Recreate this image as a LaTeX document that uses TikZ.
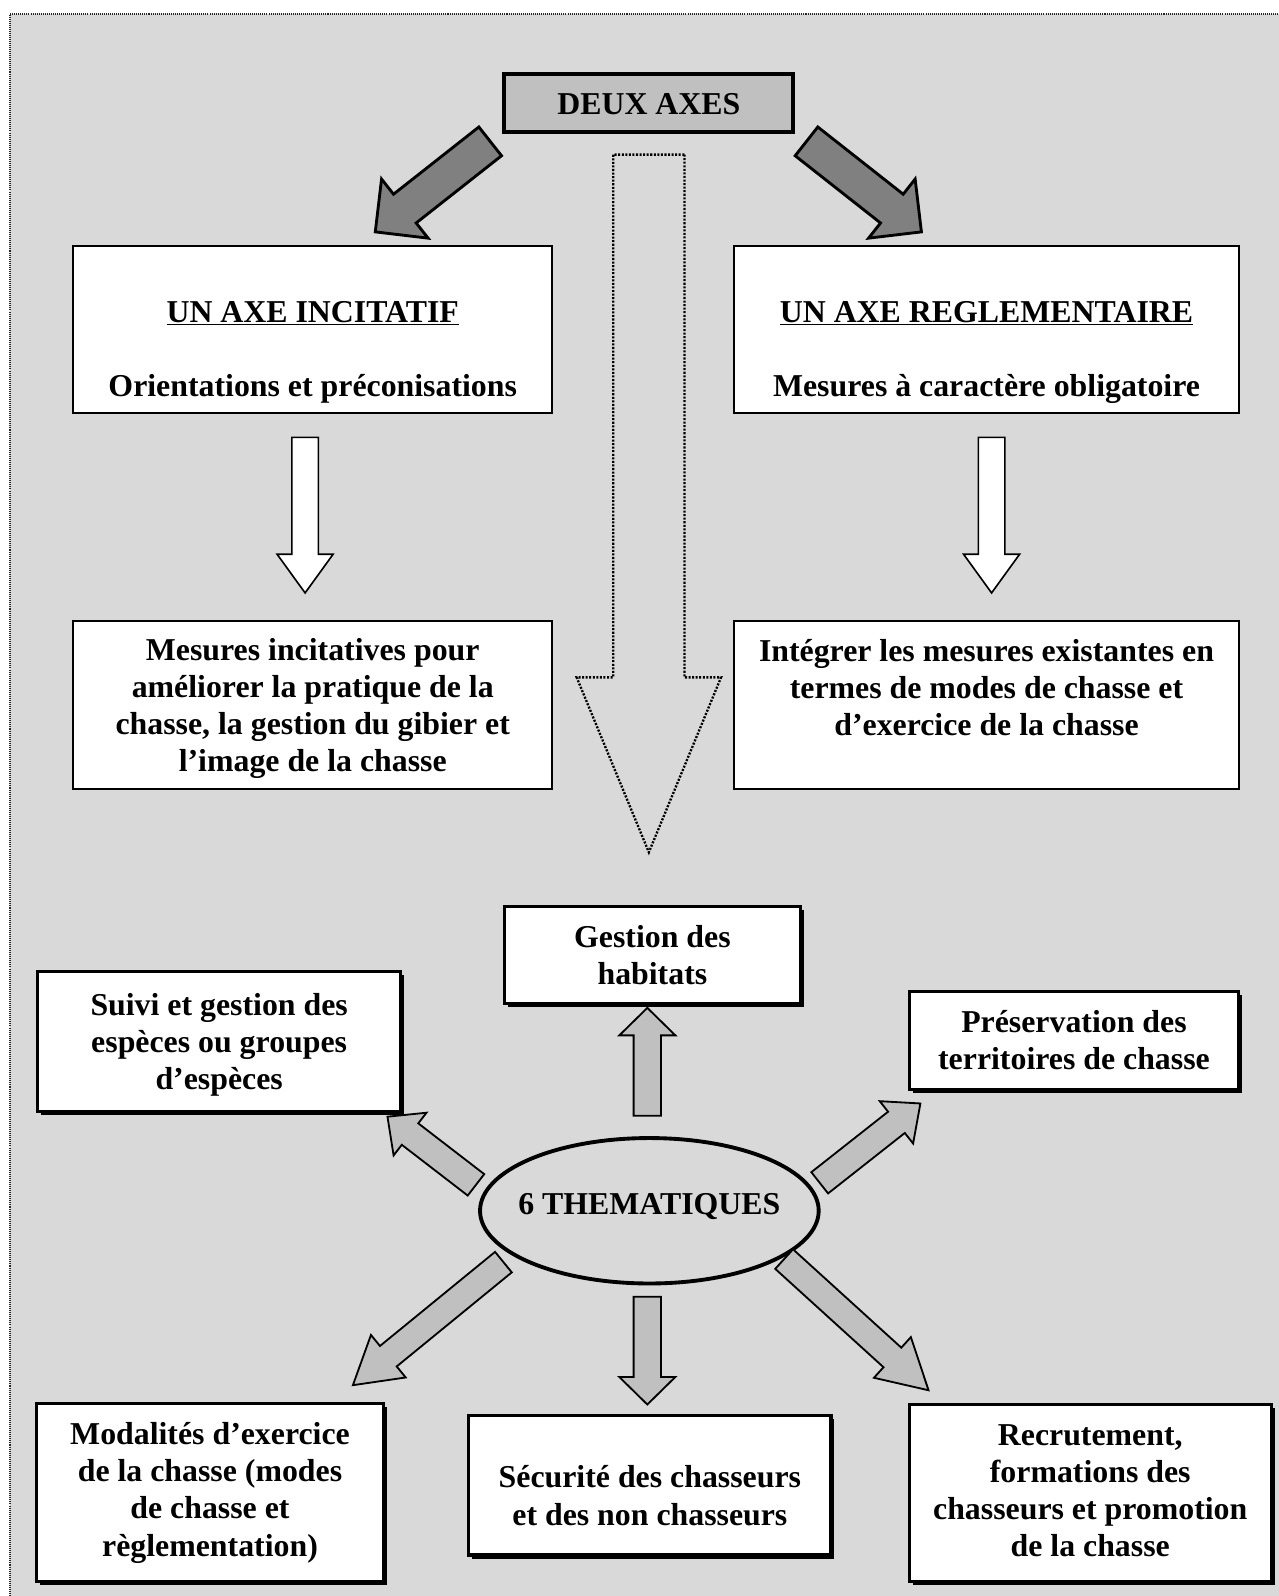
\documentclass[tikz,border=0pt]{standalone}
\usepackage{fontspec}
\setmainfont{Liberation Serif}
\usetikzlibrary{calc,shadows,shapes.geometric}
\definecolor{bgray}{HTML}{D9D9D9}
\definecolor{silv}{HTML}{C0C0C0}
\definecolor{dgray}{HTML}{808080}
\newcommand\tb[2][-3.5pt]{\raisebox{#1}[\height][\depth]{\begin{tabular}{@{}c@{}}#2\end{tabular}}}
\newcommand\blockarrow[6]{%
  \coordinate (bacc) at ($(#3)!#6!(#2)$);
  \draw[#1] ($(#2)!#4!90:(#3)$) -- ($(bacc)!#4!90:(#3)$) -- ($(bacc)!#5!90:(#3)$) -- (#3) -- ($(bacc)!#5!-90:(#3)$) -- ($(bacc)!#4!-90:(#3)$) -- ($(#2)!#4!-90:(#3)$) -- cycle;}
\begin{document}
\begin{tikzpicture}[x=1pt,y=-1pt,
  font=\fontsize{31.3pt}{36.5pt}\selectfont\bfseries,
  tbox/.style={draw=black, line width=2pt, fill=white, inner sep=0pt},
  sbox/.style={draw=black, line width=3.2pt, fill=white, inner sep=0pt,
    drop shadow={shadow xshift=3.5pt, shadow yshift=-3.5pt, fill=black, opacity=1}},
  titlebox/.style={draw=black, line width=4pt, fill=silv, inner sep=0pt},
  darkarrow/.style={draw=black, line width=2.8pt, fill=dgray, line join=miter},
  whitearrow/.style={draw=black, line width=1.6pt, fill=white, line join=miter},
  grayarrow/.style={draw=black, line width=1.8pt, fill=silv, line join=miter},
  dotarrow/.style={draw=black, line width=2.3pt, dash pattern=on 2pt off 1.5pt, line join=miter},
  themes/.style={ellipse, draw=black, line width=3.8pt, fill=bgray, inner sep=0pt,
    minimum width=333pt, minimum height=143pt}
]
\useasboundingbox (0,0) rectangle (1257.6,1569.3);
\fill[white] (0,0) rectangle (1257.6,1569.3);
\fill[bgray] (9.5,13.8) rectangle (1257.6,1569.3);
\draw[black!85, line width=2pt, dash pattern=on 1pt off 1pt] (9.5,1569.3) -- (9.5,13.8) -- (1257.6,13.8);

% arrow end points
\coordinate (dLt) at (482,139);   \coordinate (dLh) at (369,228);
\coordinate (dRt) at (793,139);   \coordinate (dRh) at (906,228);
\coordinate (wLt) at (300,430);   \coordinate (wLh) at (300,583);
\coordinate (wRt) at (975,430);   \coordinate (wRh) at (975,583);
\coordinate (bigt) at (638,152);  \coordinate (bigh) at (638,838);
\coordinate (uTt) at (636.5,1097); \coordinate (uTh) at (636.5,991);
\coordinate (dBt) at (636.5,1275); \coordinate (dBh) at (636.5,1381);
\coordinate (ulT) at (468,1165);  \coordinate (ulH) at (381,1098);
\coordinate (urT) at (806,1163);  \coordinate (urH) at (905,1085);
\coordinate (llT) at (495,1241);  \coordinate (llH) at (347,1362);
\coordinate (lrT) at (771,1238);  \coordinate (lrH) at (913,1367);

% top part
\node[titlebox, minimum width=284pt, minimum height=57pt] (deux) at (638,101.5) {\tb[-4pt]{DEUX AXES}};

\blockarrow{dotarrow}{bigt}{bigh}{35pt}{71pt}{172pt}
\blockarrow{darkarrow}{dLt}{dLh}{18pt}{37pt}{37pt}
\blockarrow{darkarrow}{dRt}{dRh}{18pt}{37pt}{37pt}

\node[tbox, minimum width=471pt, minimum height=164pt] (incit) at (307.5,324)
  {\tb[-22.5pt]{\underline{UN AXE INCITATIF}\\ \\ Orientations et préconisations}};
\node[tbox, minimum width=496pt, minimum height=164pt] (regl) at (970,324)
  {\tb[-22.5pt]{\underline{UN AXE REGLEMENTAIRE}\\ \\ Mesures à caractère obligatoire}};

\blockarrow{whitearrow}{wLt}{wLh}{13pt}{27.5pt}{38pt}
\blockarrow{whitearrow}{wRt}{wRh}{13pt}{27.5pt}{38pt}

\node[tbox, minimum width=471pt, minimum height=165pt] (mincit) at (307.5,693.5)
  {\tb{Mesures incitatives pour\\améliorer la pratique de la\\chasse, la gestion du gibier et\\l’image de la chasse}};
\node[tbox, minimum width=496pt, minimum height=165pt] (mexist) at (970,693.5)
  {\tb[14pt]{Intégrer les mesures existantes en\\termes de modes de chasse et\\d’exercice de la chasse}};

% bottom part
\node[sbox, minimum width=291pt, minimum height=96pt] (habit) at (641.5,939)
  {\tb{Gestion des\\habitats}};
\node[sbox, minimum width=357pt, minimum height=138pt] (suivi) at (215.5,1024)
  {\tb{Suivi et gestion des\\espèces ou groupes\\d’espèces}};
\node[sbox, minimum width=324pt, minimum height=96pt] (preserv) at (1056,1023)
  {\tb{Préservation des\\territoires de chasse}};
\node[sbox, minimum width=341pt, minimum height=175pt] (modal) at (206.5,1467.5)
  {\tb[-0.5pt]{Modalités d’exercice\\de la chasse (modes\\de chasse et\\règlementation)}};
\node[sbox, minimum width=356pt, minimum height=137pt] (secur) at (639,1460.5)
  {\tb[-13.5pt]{Sécurité des chasseurs\\et des non chasseurs}};
\node[sbox, minimum width=356pt, minimum height=174pt] (recrut) at (1072,1468)
  {\tb[-0.5pt]{Recrutement,\\formations des\\chasseurs et promotion\\de la chasse}};

\node[themes] (them) at (638.5,1190.5) {\makebox[0pt]{\tb[3.5pt]{6 THEMATIQUES}}};

\blockarrow{grayarrow}{uTt}{uTh}{13.5pt}{27.5pt}{27pt}
\blockarrow{grayarrow}{dBt}{dBh}{13.5pt}{27.5pt}{27pt}
\blockarrow{grayarrow}{ulT}{ulH}{13.3pt}{26.5pt}{28pt}
\blockarrow{grayarrow}{urT}{urH}{13.3pt}{26.5pt}{30pt}
\blockarrow{grayarrow}{llT}{llH}{13pt}{27pt}{45pt}
\blockarrow{grayarrow}{lrT}{lrH}{13pt}{27pt}{48pt}
\end{tikzpicture}
\end{document}
